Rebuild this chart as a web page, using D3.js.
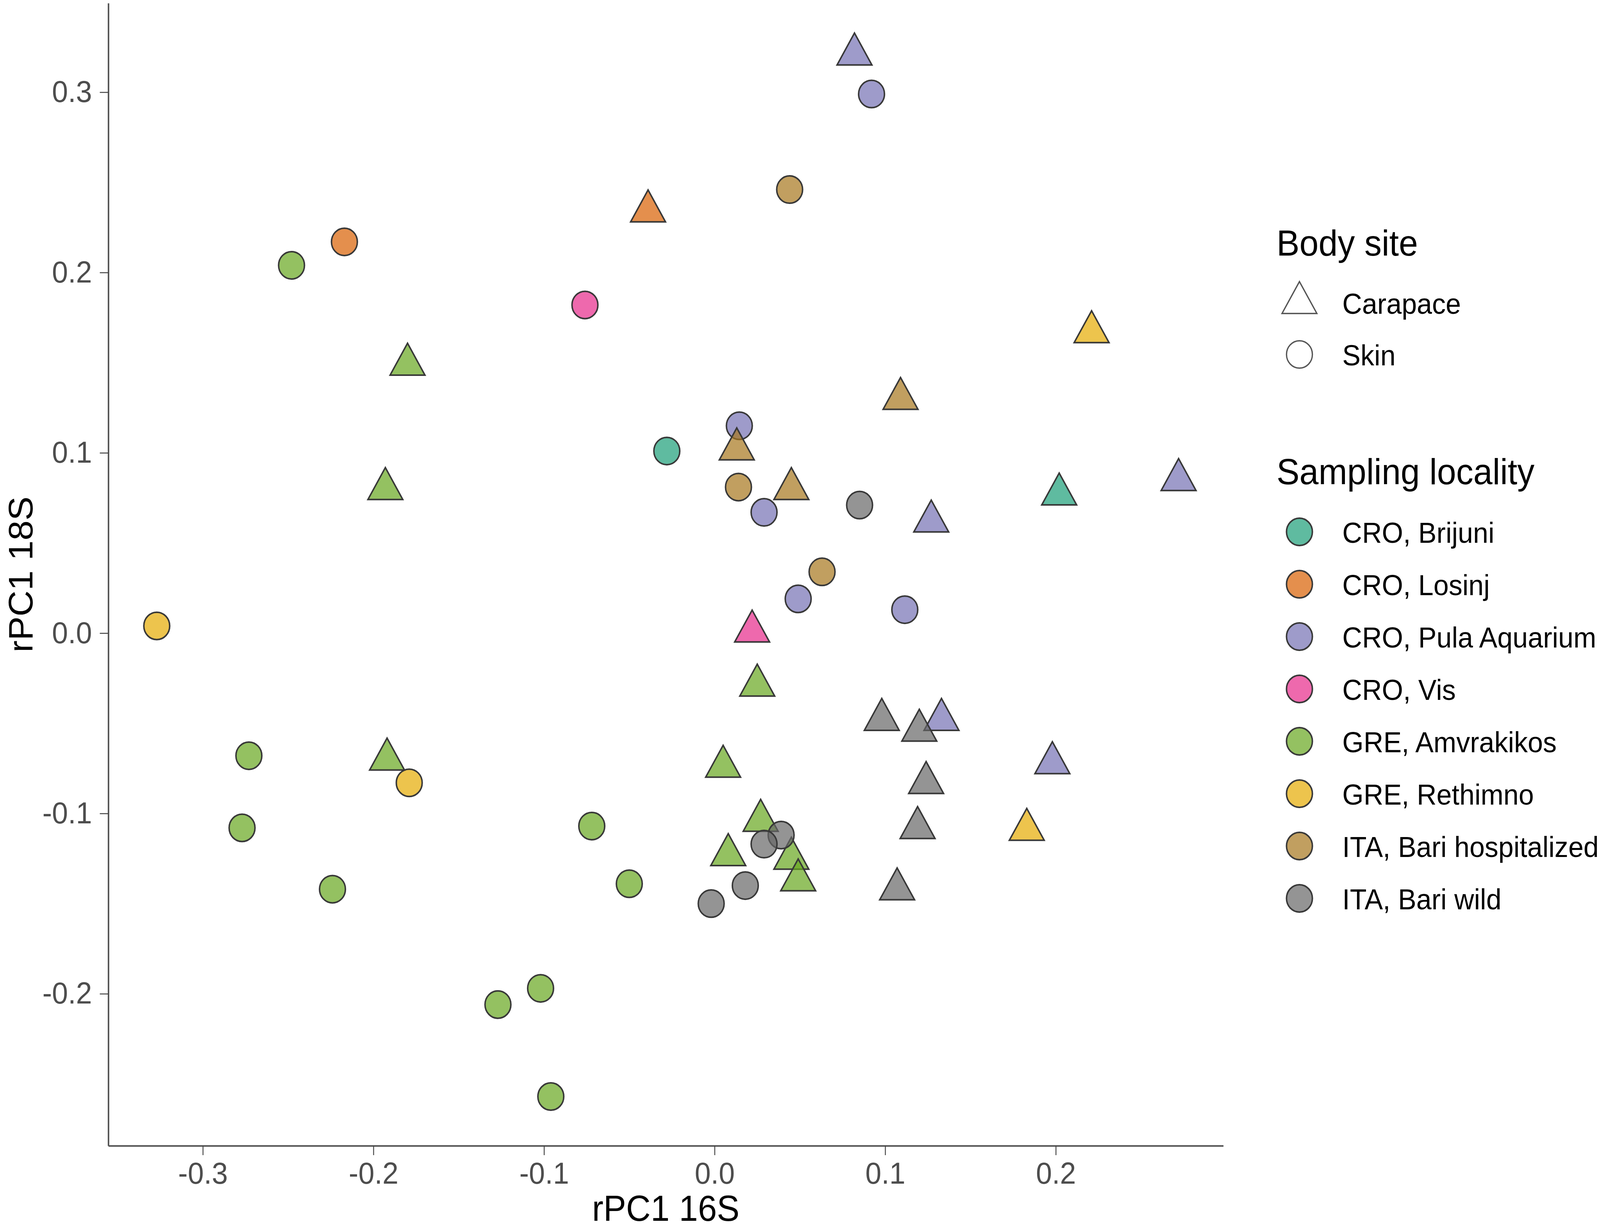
<!DOCTYPE html>
<meta charset="utf-8">
<style>
html, body { margin: 0; padding: 0; background: #fff; overflow: hidden; }
svg { display: block; width: 100vw; height: 100vh; }
text { font-family: "Liberation Sans", Arial, sans-serif; }
.axis .domain { stroke: #505050; stroke-width: 4px; }
.axis .tick line { stroke: #454545; stroke-width: 2.5px; }
.axis .tick text { fill: #4d4d4d; font-size: 78px; }
</style>
<body>
<script src="https://d3js.org/d3.v7.min.js"></script>
<script>
// sampling localities and their colours (Dark2, drawn at alpha 0.7)
var localities = ["CRO, Brijuni", "CRO, Losinj", "CRO, Pula Aquarium", "CRO, Vis",
                  "GRE, Amvrakikos", "GRE, Rethimno", "ITA, Bari hospitalized", "ITA, Bari wild"];
var palette = ["#1B9E77", "#D95F02", "#7570B3", "#E7298A", "#66A61E", "#E6AB02", "#A6761D", "#666666"];
var bodySites = ["Carapace", "Skin"];

var xTicks = [-0.3, -0.2, -0.1, 0.0, 0.1, 0.2];
var yTicks = [-0.2, -0.1, 0.0, 0.1, 0.2, 0.3];

// points per locality: [rPC1 16S, rPC1 18S, body site]
var brijuni = [[-0.028, 0.101, "Skin"], [0.202, 0.077, "Carapace"]];
var losinj = [[-0.217, 0.217, "Skin"], [-0.039, 0.234, "Carapace"]];
var pula = [[0.082, 0.321, "Carapace"], [0.092, 0.299, "Skin"], [0.0145, 0.115, "Skin"],
            [0.029, 0.067, "Skin"], [0.127, 0.062, "Carapace"], [0.272, 0.085, "Carapace"],
            [0.049, 0.019, "Skin"], [0.1115, 0.013, "Skin"], [0.133, -0.048, "Carapace"],
            [0.198, -0.072, "Carapace"]];
var vis = [[-0.076, 0.182, "Skin"], [0.022, 0.001, "Carapace"]];
var amvrakikos = [[-0.248, 0.204, "Skin"], [-0.180, 0.149, "Carapace"], [-0.193, 0.080, "Carapace"],
                  [-0.273, -0.068, "Skin"], [-0.192, -0.070, "Carapace"], [-0.277, -0.108, "Skin"],
                  [-0.224, -0.142, "Skin"], [-0.072, -0.107, "Skin"], [-0.050, -0.139, "Skin"],
                  [-0.127, -0.206, "Skin"], [-0.102, -0.197, "Skin"], [-0.096, -0.257, "Skin"],
                  [0.025, -0.029, "Carapace"], [0.005, -0.074, "Carapace"], [0.027, -0.104, "Carapace"],
                  [0.008, -0.123, "Carapace"], [0.045, -0.125, "Carapace"], [0.049, -0.137, "Carapace"]];
var rethimno = [[-0.327, 0.004, "Skin"], [-0.179, -0.083, "Skin"], [0.221, 0.167, "Carapace"],
                [0.183, -0.109, "Carapace"]];
var bariHosp = [[0.044, 0.246, "Skin"], [0.109, 0.130, "Carapace"], [0.013, 0.102, "Carapace"],
                [0.014, 0.081, "Skin"], [0.045, 0.080, "Carapace"], [0.063, 0.034, "Skin"]];
var bariWild = [[0.085, 0.071, "Skin"], [0.098, -0.048, "Carapace"], [0.120, -0.054, "Carapace"],
                [0.124, -0.083, "Carapace"], [0.119, -0.108, "Carapace"], [0.107, -0.142, "Carapace"],
                [0.039, -0.112, "Skin"], [0.029, -0.117, "Skin"], [0.018, -0.140, "Skin"],
                [-0.002, -0.150, "Skin"]];

var groups = [brijuni, losinj, pula, vis, amvrakikos, rethimno, bariHosp, bariWild];

// flatten into one list for the marks
var points = [];
groups.forEach(function(g, i) {
  g.forEach(function(p) {
    points.push({x: p[0], y: p[1], site: p[2], loc: localities[i]});
  });
});

var W = 4328, H = 3145;
var plot = {left: 293, right: 3309, top: 8, bottom: 2932};

// fixed drawing space, stretched over the whole window
var svg = d3.select("body").append("svg")
    .attr("viewBox", "0 0 " + W + " " + H)
    .attr("preserveAspectRatio", "none");

var x = d3.scaleLinear().domain([-0.3554, 0.2982]).range([plot.left, plot.right]);
var y = d3.scaleLinear().domain([-0.2843, 0.3494]).range([plot.bottom, plot.top]);

var color = d3.scaleOrdinal().domain(localities).range(palette);
var shape = d3.scaleOrdinal().domain(bodySites).range([d3.symbolTriangle, d3.symbolCircle]);
var markSize = 3850;
var symbol = d3.symbol().size(markSize);

function fmt(d) { return (Math.abs(d) < 1e-9 ? 0 : d).toFixed(1); }

// axes
svg.append("g")
    .attr("class", "axis")
    .attr("transform", "translate(0," + plot.bottom + ")")
    .call(d3.axisBottom(x).tickValues(xTicks).tickFormat(fmt)
      .tickSize(24).tickSizeOuter(0).tickPadding(18));

svg.append("g")
    .attr("class", "axis")
    .attr("transform", "translate(" + plot.left + ",0)")
    .call(d3.axisLeft(y).tickValues(yTicks).tickFormat(fmt)
      .tickSize(23).tickSizeOuter(0).tickPadding(21));

svg.selectAll(".axis text").attr("font-family", null);

// points
svg.append("g").selectAll("path")
    .data(points)
  .enter().append("path")
    .attr("transform", function(d) { return "translate(" + x(d.x) + "," + y(d.y) + ")"; })
    .attr("d", function(d) { return symbol.type(shape(d.site))(); })
    .attr("fill", function(d) { return color(d.loc); })
    .attr("fill-opacity", 0.7)
    .attr("stroke", "#383838")
    .attr("stroke-width", 4);

// axis titles
svg.append("text")
    .attr("x", (plot.left + plot.right) / 2)
    .attr("y", 3124)
    .attr("text-anchor", "middle")
    .attr("font-size", 92)
    .attr("fill", "#000")
    .text("rPC1 16S");

svg.append("text")
    .attr("transform", "translate(88," + (plot.top + plot.bottom) / 2 + ") rotate(-90)")
    .attr("text-anchor", "middle")
    .attr("font-size", 92)
    .attr("fill", "#000")
    .text("rPC1 18S");

// legend: body site
var lg = svg.append("g");
var keyX = 3515, labelX = 3631, step = 134;

lg.append("text")
    .attr("x", 3453).attr("y", 654)
    .attr("font-size", 93)
    .text("Body site");

bodySites.forEach(function(s, i) {
  var cy = 775 + i * 132;
  lg.append("path")
      .attr("transform", "translate(" + keyX + "," + cy + ")")
      .attr("d", symbol.type(shape(s))())
      .attr("fill", "none")
      .attr("stroke", "#555")
      .attr("stroke-width", 3.5);
  lg.append("text")
      .attr("x", labelX).attr("y", cy + 28)
      .attr("font-size", 74)
      .text(s);
});

// legend: sampling locality
lg.append("text")
    .attr("x", 3453).attr("y", 1239)
    .attr("font-size", 93)
    .text("Sampling locality");

localities.forEach(function(l, i) {
  var cy = 1361 + i * step;
  lg.append("path")
      .attr("transform", "translate(" + keyX + "," + cy + ")")
      .attr("d", symbol.type(d3.symbolCircle)())
      .attr("fill", color(l))
      .attr("fill-opacity", 0.7)
      .attr("stroke", "#383838")
      .attr("stroke-width", 4);
  lg.append("text")
      .attr("x", labelX).attr("y", cy + 28)
      .attr("font-size", 74)
      .text(l);
});
</script>
</body>
